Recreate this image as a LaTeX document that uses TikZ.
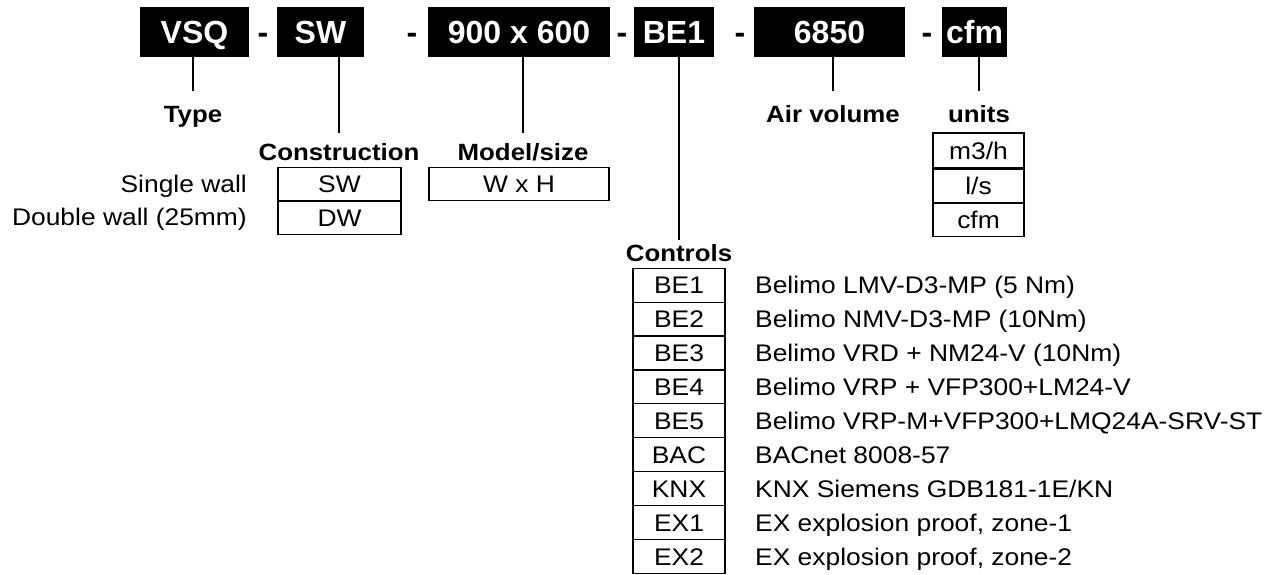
\documentclass[tikz,border=0pt]{standalone}
\usepackage{fontspec}
\setmainfont{Liberation Sans}
\newfontfamily\nf[FakeStretch=1.1]{Liberation Sans}
\begin{document}
\begin{tikzpicture}[x=1pt,y=-1pt,
  code/.style={fill=black,text=white,font=\bfseries\fontsize{32}{36}\selectfont,inner sep=0pt,minimum height=50pt,text height=22.9pt,text depth=0pt},
  dashlbl/.style={font=\bfseries\fontsize{32}{36}\selectfont,inner sep=0pt,text height=22.9pt,text depth=0pt},
  head/.style={font=\nf\bfseries\fontsize{23.5}{26}\selectfont,inner xsep=0pt,anchor=north,text height=16.8pt,text depth=0pt},
  cell/.style={draw=black,line width=1.2pt,font=\nf\fontsize{24}{26}\selectfont,inner sep=0pt,text height=17.2pt,text depth=0pt},
  desc/.style={font=\nf\fontsize{24}{26}\selectfont,inner sep=0pt,text height=17.2pt,text depth=0pt},
  conn/.style={line width=1.2pt}]
\useasboundingbox (0,0) rectangle (1284,575);
% code boxes
\node[code,minimum width=109pt] (vsq) at (194.5,32) {VSQ};
\node[code,minimum width=87pt] (sw) at (320.5,32) {SW};
\node[code,minimum width=182pt] (size) at (519,32) {900 x 600};
\node[code,minimum width=80pt] (be) at (674,32) {BE1};
\node[code,minimum width=151pt] (vol) at (829.5,32) {6850};
\node[code,minimum width=65pt] (cfm) at (974.5,32) {cfm};
\node[dashlbl] (d1) at (263,32) {-};
\node[dashlbl] (d2) at (412,32) {-};
\node[dashlbl] (d3) at (622,32) {-};
\node[dashlbl] (d4) at (740,32) {-};
\node[dashlbl] (d5) at (927,32) {-};
% headings
\node[head,inner ysep=14pt] (type) at (193,91) {Type};
\node[head,inner ysep=10.2pt] (con) at (339,133) {Construction};
\node[head,inner ysep=10.2pt] (mod) at (523,133) {Model/size};
\node[head,inner ysep=14pt] (air) at (833,91) {Air volume};
\node[head,inner ysep=14pt] (uni) at (979,91) {units};
\node[head,inner ysep=4pt] (ctl) at (679,240) {Controls};
% connectors
\draw[conn] (vsq.south -| type.north) -- (type.north);
\draw[conn] (sw.south -| con.north) -- (con.north);
\draw[conn] (size.south -| mod.north) -- (mod.north);
\draw[conn] (be.south -| ctl.north) -- (ctl.north);
\draw[conn] (vol.south -| air.north) -- (air.north);
\draw[conn] (cfm.south -| uni.north) -- (uni.north);
% construction
\node[cell,minimum width=123pt,minimum height=33pt] (csw) at (339.5,184) {SW};
\node[cell,minimum width=123pt,minimum height=33pt,anchor=north] (cdw) at (csw.south) {DW};
\node[desc,anchor=east] (lsw) at (247,184) {Single wall};
\node[desc,anchor=east] (ldw) at (247,217) {Double wall (25mm)};
% model
\node[cell,minimum width=180pt,minimum height=33pt] (wh) at (519,184) {W x H};
% units
\node[cell,minimum width=91pt,minimum height=35pt] (u1) at (978.5,150.5) {m3/h};
\node[cell,minimum width=91pt,minimum height=33pt,anchor=north] (u2) at (u1.south) {l/s};
\node[cell,minimum width=91pt,minimum height=33pt,anchor=north] (u3) at (u2.south) {cfm};
% controls
\foreach \c/\d [count=\i from 0] in {BE1/{Belimo LMV-D3-MP (5 Nm)},BE2/{Belimo NMV-D3-MP (10Nm)},BE3/{Belimo VRD + NM24-V (10Nm)},BE4/{Belimo VRP + VFP300+LM24-V},BE5/{Belimo VRP-M+VFP300+LMQ24A-SRV-ST},BAC/{BACnet 8008-57},KNX/{KNX Siemens GDB181-1E/KN},EX1/{EX explosion proof, zone-1},EX2/{EX explosion proof, zone-2}}{
  \node[cell,minimum width=92pt,minimum height=33.9pt] (k\i) at (679,285.2+33.9*\i) {\c};
  \node[desc,anchor=west] (t\i) at (755,285.2+33.9*\i) {\d};
}
\end{tikzpicture}
\end{document}
